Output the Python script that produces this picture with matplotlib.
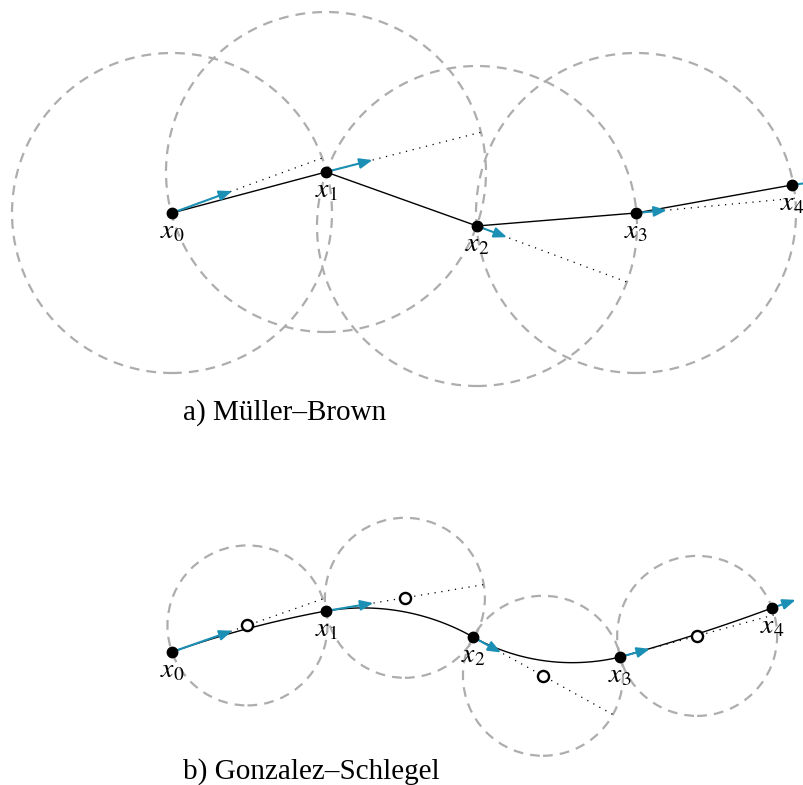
import numpy as np
import matplotlib
matplotlib.use("Agg")
import matplotlib.pyplot as plt
from matplotlib.patches import Circle, FancyArrowPatch

plt.rcParams['mathtext.fontset'] = 'stix'
plt.rcParams['font.family'] = ['Liberation Serif', 'DejaVu Serif']

# ---------------- data (pixel-like diagram units, y pointing up) ----------------
labels = ['$x_0$', '$x_1$', '$x_2$', '$x_3$', '$x_4$']

# a) Müller–Brown
a_x = [172, 326, 477, 636, 792]
a_y = [572, 613, 559, 572, 600]
a_angle = [20.1, 14.4, -20.5, 5.3, 8.0]      # gradient direction (deg)
a_arrow = [64, 48, 32, 31, 26]               # arrow length
a_step = 160                                 # trust radius

# b) Gonzalez–Schlegel
b_x = [172, 326, 473, 620, 772]
b_y = [133, 174, 148, 128, 177]
b_angle = [19.4, 9.5, -29.0, 15.3, 19.0]
b_arrow = [64, 48, 32, 31, 25]
b_step = 160                                 # step (circle diameter)

captions = ['a) Müller–Brown', 'b) Gonzalez–Schlegel']

# ---------------- style ----------------
BLUE = '#1b8fb4'
GREY = '#adadad'

fig = plt.figure(figsize=(8.04, 7.85), dpi=100)
ax = fig.add_axes([0, 0, 1, 1])
ax.set_xlim(0, 804)
ax.set_ylim(0, 785)
ax.axis('off')


def unit(ang):
    r = np.radians(ang)
    return np.array([np.cos(r), np.sin(r)])


def arc(p0, ang, p1, n=80):
    p0 = np.asarray(p0, float)
    p1 = np.asarray(p1, float)
    a = np.radians(ang)
    d = p1 - p0
    L = np.hypot(*d)
    th = np.arctan2(d[1], d[0]) - a
    th = (th + np.pi) % (2 * np.pi) - np.pi
    if abs(th) < 1e-6:
        t = np.linspace(0, 1, n)
        return p0[0] + t * d[0], p0[1] + t * d[1]
    k = 2 * np.sin(th) / L
    phi = np.linspace(0, 2 * th, n)
    xs = p0[0] + (np.sin(a + phi) - np.sin(a)) / k
    ys = p0[1] + (np.cos(a) - np.cos(a + phi)) / k
    return xs, ys


def arrow(p, ang, length):
    p = np.asarray(p, float)
    q = p + length * unit(ang)
    ar = FancyArrowPatch(tuple(p), tuple(q), arrowstyle='-|>,head_length=0.7,head_width=0.28',
                         mutation_scale=11, lw=1.5, color=BLUE, shrinkA=0, shrinkB=0,
                         zorder=4)
    ax.add_patch(ar)


def dashed_circle(c, r):
    ax.add_patch(Circle(c, r, fill=False, ec=GREY, lw=1.6, ls=(0, (4.4, 3.2)), zorder=1))


def dotted(p, ang, length):
    p = np.asarray(p, float)
    q = p + length * unit(ang)
    ax.plot([p[0], q[0]], [p[1], q[1]], color='black', lw=0.9, ls=(0, (1, 4.5)), zorder=2)


def point_labels(xs, ys):
    ax.plot(xs, ys, 'o', color='black', ms=7.5, zorder=5)
    for x, y, lab in zip(xs, ys, labels):
        ax.text(x, y - 6, lab, ha='center', va='top', fontsize=20, zorder=6)


# ---------- panel a ----------
for i in range(4):
    dashed_circle((a_x[i], a_y[i]), a_step)
for i in range(4):
    dotted((a_x[i], a_y[i]), a_angle[i], a_step)
ax.plot(a_x, a_y, color='black', lw=1.0, zorder=3)
for i in range(5):
    arrow((a_x[i], a_y[i]), a_angle[i], a_arrow[i])
point_labels(a_x, a_y)

# ---------- panel b ----------
mids = []
for i in range(4):
    c = np.array([b_x[i], b_y[i]], float) + (b_step / 2) * unit(b_angle[i])
    mids.append(c)
    dashed_circle(tuple(c), b_step / 2)
for i in range(4):
    dotted((b_x[i], b_y[i]), b_angle[i], b_step)
for i in range(4):
    xs, ys = arc((b_x[i], b_y[i]), b_angle[i], (b_x[i + 1], b_y[i + 1]))
    ax.plot(xs, ys, color='black', lw=1.0, zorder=3)
for i in range(5):
    arrow((b_x[i], b_y[i]), b_angle[i], b_arrow[i])
mids = np.array(mids)
ax.plot(mids[:, 0], mids[:, 1], 'o', mfc='white', mec='black', mew=1.7, ms=8, zorder=5)
point_labels(b_x, b_y)

# ---------- captions ----------
ax.text(183, 365, captions[0], ha='left', va='baseline', fontsize=21)
ax.text(183, 6, captions[1], ha='left', va='baseline', fontsize=21)

fig.savefig('out.png', dpi=100)
